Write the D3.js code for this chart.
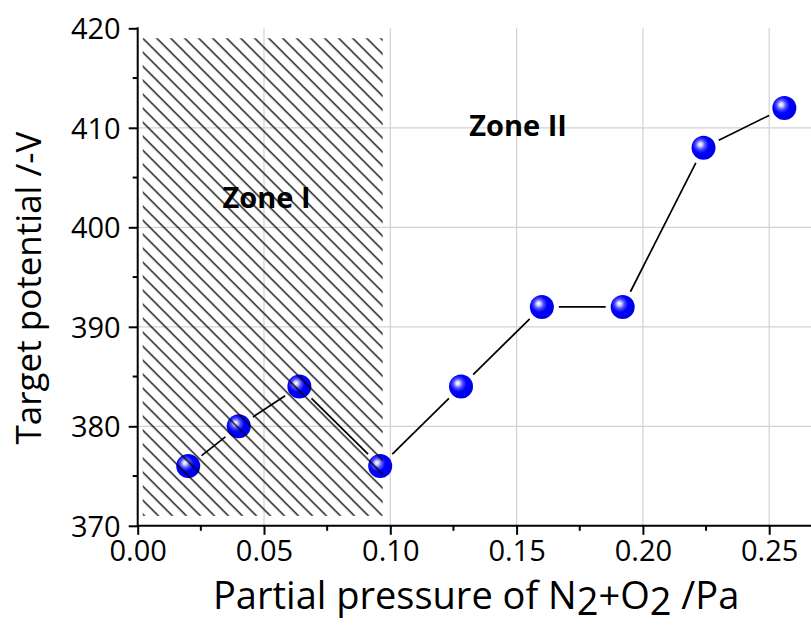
<!DOCTYPE html>
<html>
<head>
<meta charset="utf-8">
<script src="https://cdn.jsdelivr.net/npm/d3@7"></script>
<style>
  body { margin: 0; background: #fff; }
  text { font-family: "Open Sans", "Noto Sans", sans-serif; fill: #000; }
</style>
</head>
<body>
<div id="chart"></div>
<script>
// data
var pressure = [0.02, 0.04, 0.064, 0.096, 0.128, 0.16, 0.192, 0.224, 0.256];
var potential = [376, 380, 384, 376, 384, 392, 392, 408, 412];
var xTicks = [0, 0.05, 0.10, 0.15, 0.20, 0.25];
var yTicks = [370, 380, 390, 400, 410, 420];
var zone1 = [0.002, 0.097, 371, 419];   // x0, x1, y0, y1 of hatched area
var zoneLabels = ["Zone I", "Zone II"];
var zoneAt = [[0.051, 401.9], [0.1506, 409.2]];

var width = 811, height = 627;

var svg = d3.select("#chart")
  .append("svg")
    .attr("width", width)
    .attr("height", height);

var x = d3.scaleLinear().domain([0, 0.27]).range([137.7, 137.7 + 0.27 * 2526]);
var y = d3.scaleLinear().domain([370, 420]).range([525.8, 28.3]);

var defs = svg.append("defs");

// sphere look for the markers
var grad = defs.append("radialGradient")
    .attr("id", "ball")
    .attr("cx", "40%").attr("cy", "40%")
    .attr("fx", "36%").attr("fy", "36%")
    .attr("r", "62%");
grad.append("stop").attr("offset", "0%").attr("stop-color", "#ffffff");
grad.append("stop").attr("offset", "12%").attr("stop-color", "#d8d8ff");
grad.append("stop").attr("offset", "32%").attr("stop-color", "#5050ff");
grad.append("stop").attr("offset", "55%").attr("stop-color", "#0000ff");
grad.append("stop").attr("offset", "100%").attr("stop-color", "#0000e6");

// hatch pattern for zone I
var hx = x(zone1[0]), hy = y(zone1[3]);
var pat = defs.append("pattern")
    .attr("id", "hatch")
    .attr("patternUnits", "userSpaceOnUse")
    .attr("x", hx).attr("y", hy)
    .attr("width", 14).attr("height", 14);
pat.append("path")
    .attr("d", "M-1,-1L15,15M13,-1L15,1M-1,13L1,15")
    .attr("stroke", "#000")
    .attr("stroke-width", 1.3);

// grid
svg.append("g").selectAll("line")
  .data(xTicks.filter(function(d) { return d > 0; }))
  .enter().append("line")
    .attr("x1", function(d) { return x(d); })
    .attr("x2", function(d) { return x(d); })
    .attr("y1", y(420)).attr("y2", y(370))
    .attr("stroke", "#d2d2d2").attr("stroke-width", 1.2);
svg.append("g").selectAll("line")
  .data(yTicks.filter(function(d) { return d > 370 && d < 420; }))
  .enter().append("line")
    .attr("x1", x(0)).attr("x2", width)
    .attr("y1", function(d) { return y(d); })
    .attr("y2", function(d) { return y(d); })
    .attr("stroke", "#d2d2d2").attr("stroke-width", 1.2);

// connecting segments, stopped short of the balls
var pts = pressure.map(function(p, i) { return [x(p), y(potential[i])]; });
var gap = 17;
for (var i = 0; i < pts.length - 1; i++) {
  var a = pts[i], b = pts[i + 1];
  var dx = b[0] - a[0], dy = b[1] - a[1];
  var len = Math.sqrt(dx * dx + dy * dy);
  var ux = dx / len, uy = dy / len;
  svg.append("line")
    .attr("x1", a[0] + ux * gap).attr("y1", a[1] + uy * gap)
    .attr("x2", b[0] - ux * gap).attr("y2", b[1] - uy * gap)
    .attr("stroke", "#000").attr("stroke-width", 1.7);
}

svg.append("g").selectAll("circle")
  .data(pressure)
  .enter().append("circle")
    .attr("cx", function(d) { return x(d); })
    .attr("cy", function(d, i) { return y(potential[i]); })
    .attr("r", 12)
    .attr("fill", "url(#ball)");

// hatched zone on top
svg.append("rect")
    .attr("x", hx).attr("y", hy)
    .attr("width", x(zone1[1]) - hx)
    .attr("height", y(zone1[2]) - hy)
    .attr("fill", "url(#hatch)");

svg.append("g").selectAll("text")
  .data(zoneLabels)
  .enter().append("text")
    .attr("x", function(d, i) { return x(zoneAt[i][0]); })
    .attr("y", function(d, i) { return y(zoneAt[i][1]); })
    .attr("text-anchor", "middle")
    .attr("font-size", "29px")
    .attr("font-weight", "bold")
    .text(function(d) { return d; });

// axes
var xAxis = svg.append("g")
    .attr("transform", "translate(0," + y(370) + ")")
    .call(d3.axisBottom(x).tickValues(xTicks).tickSize(9).tickPadding(6)
      .tickFormat(d3.format(".2f")));
xAxis.append("g").selectAll("line")
  .data([0.025, 0.075, 0.125, 0.175, 0.225])
  .enter().append("line")
    .attr("x1", function(d) { return x(d); })
    .attr("x2", function(d) { return x(d); })
    .attr("y1", 0).attr("y2", 5)
    .attr("stroke", "#000").attr("stroke-width", 2);

var yAxis = svg.append("g")
    .attr("transform", "translate(" + x(0) + ",0)")
    .call(d3.axisLeft(y).tickValues(yTicks).tickSize(9).tickPadding(8));
yAxis.append("g").selectAll("line")
  .data([375, 385, 395, 405, 415])
  .enter().append("line")
    .attr("x1", 0).attr("x2", -5)
    .attr("y1", function(d) { return y(d); })
    .attr("y2", function(d) { return y(d); })
    .attr("stroke", "#000").attr("stroke-width", 2);

xAxis.select(".domain").remove();
yAxis.select(".domain").remove();
svg.append("line")
    .attr("x1", x(0)).attr("x2", width)
    .attr("y1", y(370)).attr("y2", y(370))
    .attr("stroke", "#000").attr("stroke-width", 2);
svg.append("line")
    .attr("x1", x(0)).attr("x2", x(0))
    .attr("y1", y(420) - 1).attr("y2", y(370) + 1)
    .attr("stroke", "#000").attr("stroke-width", 2);

svg.selectAll(".tick line").attr("stroke-width", 2);
svg.selectAll(".tick text")
    .attr("font-family", "'Open Sans', sans-serif")
    .attr("font-size", "29px")
    .attr("fill", "#000");
yAxis.selectAll(".tick text").attr("dy", "0.36em");

// axis titles
var xt = svg.append("text")
    .attr("x", 213).attr("y", 609)
    .attr("font-size", "38px");
xt.append("tspan").text("Partial pressure of N");
xt.append("tspan").attr("dy", 6).text("2");
xt.append("tspan").attr("dy", -6).text("+O");
xt.append("tspan").attr("dy", 6).text("2");
xt.append("tspan").attr("dy", -6).text(" /Pa");

svg.append("text")
    .attr("transform", "translate(41,288) rotate(-90)")
    .attr("text-anchor", "middle")
    .attr("font-size", "35px")
    .text("Target potential /-V");
</script>
</body>
</html>
